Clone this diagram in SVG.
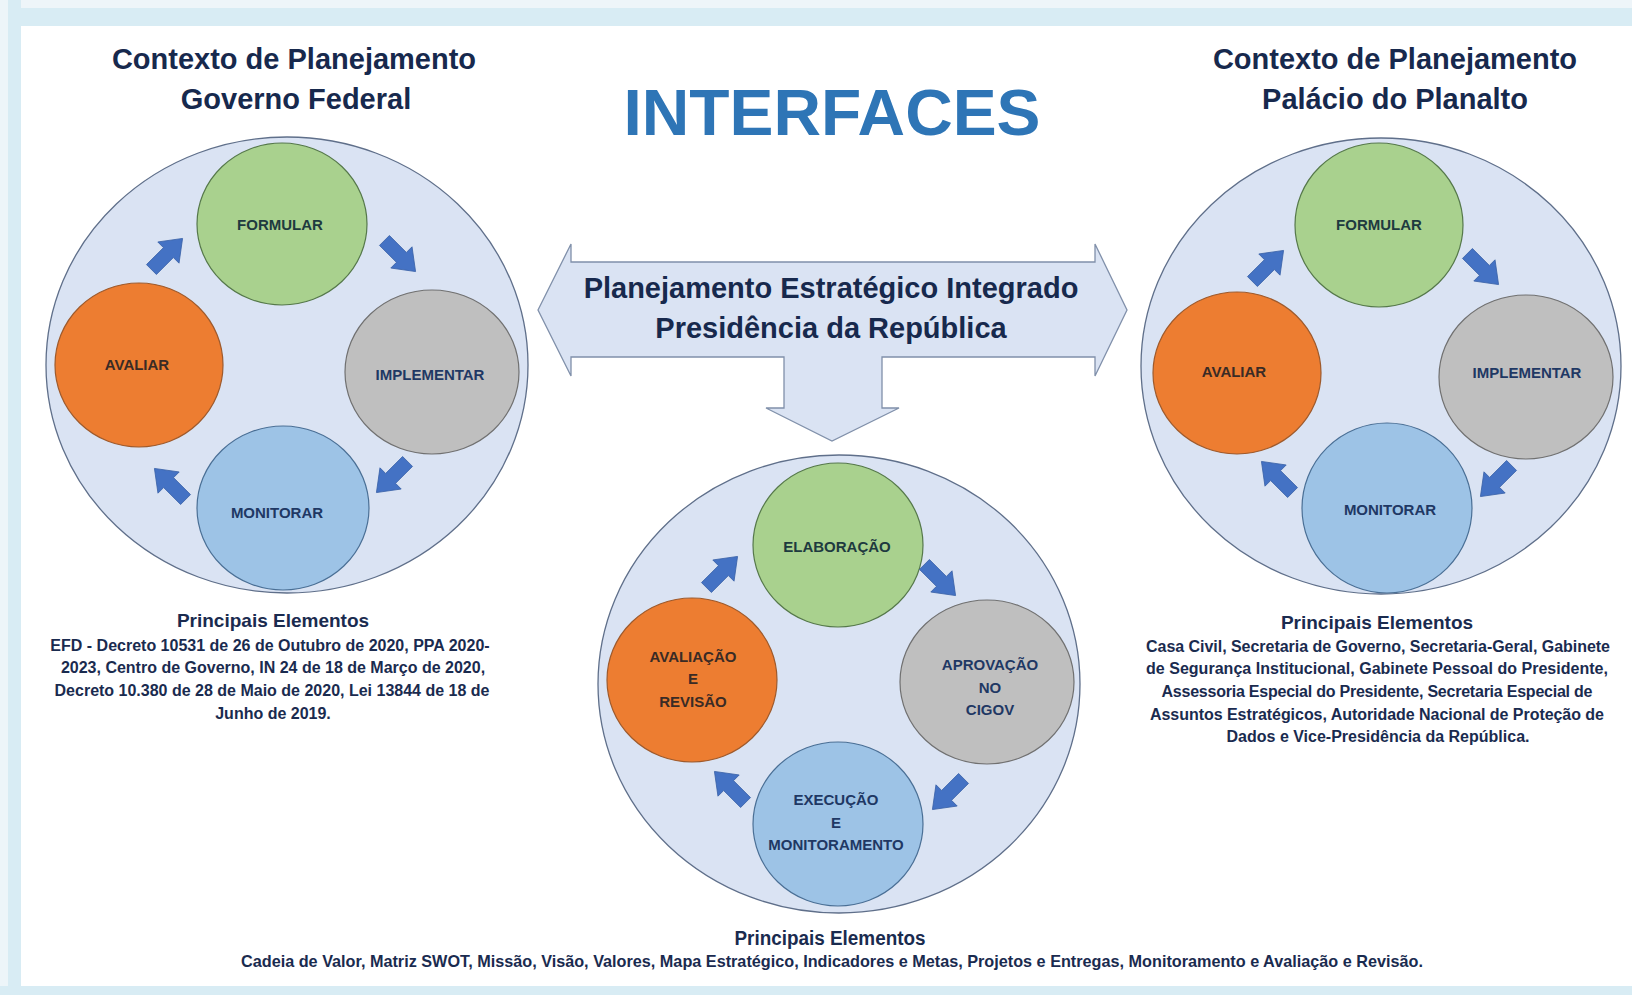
<svg xmlns="http://www.w3.org/2000/svg" width="1632" height="995" viewBox="0 0 1632 995">
<defs>
<style>
.t{font-family:"Liberation Sans",Arial,sans-serif;font-weight:bold;text-anchor:middle}
.title{font-size:29px;fill:#17294d}
.lbl{font-size:15px;fill:#1f3864}
.lblo{font-size:15px;fill:#3a2b25}
.lblg{font-size:15px;fill:#1e3a3f}
.hd{font-size:19px;fill:#1a2b4f}
.body{font-size:16px;fill:#1a2b4f}
.big{fill:#dae3f3;stroke:#5f6f8a;stroke-width:1.3}
.g{fill:#a9d18e;stroke:#55784a;stroke-width:1.2}
.o{fill:#ed7d31;stroke:#9e5a2c;stroke-width:1.2}
.gr{fill:#bfbfbf;stroke:#707070;stroke-width:1.2}
.b{fill:#9dc3e6;stroke:#4a6f95;stroke-width:1.2}
.arr{fill:#4472c4;stroke:#3a62a8;stroke-width:0.8}
</style>
<path id="blk" d="M-22,-7 H2 V-15 L22,0 L2,15 V7 H-22 Z"/>
</defs>

<g id="frame">
<rect x="0" y="0" width="1632" height="995" fill="#ffffff"/>
<rect x="0" y="0" width="1632" height="9" fill="#eef5f9"/>
<rect x="0" y="8" width="1632" height="18" fill="#d8ecf4"/>
<rect x="0" y="0" width="21" height="995" fill="#d8ecf4"/>
<rect x="0" y="0" width="8" height="995" fill="#edf5f9"/>
<rect x="0" y="986" width="1632" height="9" fill="#d8ecf4"/>
</g>

<g id="titles">
<text class="t title" x="294" y="69">Contexto de Planejamento</text>
<text class="t title" x="296" y="109">Governo Federal</text>
<text class="t title" x="1395" y="69">Contexto de Planejamento</text>
<text class="t title" x="1395" y="109">Palácio do Planalto</text>
<text class="t" x="832" y="135" style="font-size:65px;fill:#2e75b6" textLength="417" lengthAdjust="spacingAndGlyphs">INTERFACES</text>
</g>

<g id="central-arrow">
<path d="M538,310 L571,244 L571,262 L1095,262 L1095,244 L1127,310 L1095,376 L1095,357 L882,357 L882,408 L899,408 L832,441 L766,408 L784,408 L784,357 L571,357 L571,376 Z" fill="#dae3f3" stroke="#8090aa" stroke-width="1.3"/>
<text class="t title" x="831" y="298">Planejamento Estratégico Integrado</text>
<text class="t title" x="831" y="338">Presidência da República</text>
</g>

<g id="left-context">
<ellipse class="big" cx="287" cy="365" rx="241" ry="228"/>
<g id="l-formular"><ellipse class="g" cx="282" cy="224" rx="85" ry="81"/><text class="t lblg" x="280" y="230">FORMULAR</text></g>
<g id="l-implementar"><ellipse class="gr" cx="432" cy="372" rx="87" ry="82"/><text class="t lbl" x="430" y="380">IMPLEMENTAR</text></g>
<g id="l-monitorar"><ellipse class="b" cx="283" cy="508" rx="86" ry="82"/><text class="t lbl" x="277" y="518">MONITORAR</text></g>
<g id="l-avaliar"><ellipse class="o" cx="139" cy="365" rx="84" ry="82"/><text class="t lblo" x="137" y="370">AVALIAR</text></g>
</g>

<g id="center-context">
<ellipse class="big" cx="839" cy="684" rx="241" ry="229"/>
<g id="c-elaboracao"><ellipse class="g" cx="838" cy="545" rx="85" ry="82"/><text class="t lblg" x="837" y="552">ELABORAÇÃO</text></g>
<g id="c-aprovacao"><ellipse class="gr" cx="987" cy="682" rx="87" ry="82"/>
<text class="t lbl" x="990" y="670">APROVAÇÃO</text><text class="t lbl" x="990" y="693">NO</text><text class="t lbl" x="990" y="715">CIGOV</text></g>
<g id="c-execucao"><ellipse class="b" cx="838" cy="824" rx="85" ry="82"/>
<text class="t lbl" x="836" y="805">EXECUÇÃO</text><text class="t lbl" x="836" y="828">E</text><text class="t lbl" x="836" y="850">MONITORAMENTO</text></g>
<g id="c-avaliacao"><ellipse class="o" cx="692" cy="680" rx="85" ry="82"/>
<text class="t lblo" x="693" y="662">AVALIAÇÃO</text><text class="t lblo" x="693" y="684">E</text><text class="t lblo" x="693" y="707">REVISÃO</text></g>
</g>

<g id="right-context">
<ellipse class="big" cx="1381" cy="366" rx="240" ry="228"/>
<g id="r-formular"><ellipse class="g" cx="1379" cy="225" rx="84" ry="82"/><text class="t lblg" x="1379" y="230">FORMULAR</text></g>
<g id="r-implementar"><ellipse class="gr" cx="1526" cy="377" rx="87" ry="82"/><text class="t lbl" x="1527" y="378">IMPLEMENTAR</text></g>
<g id="r-monitorar"><ellipse class="b" cx="1387" cy="508" rx="85" ry="85"/><text class="t lbl" x="1390" y="515">MONITORAR</text></g>
<g id="r-avaliar"><ellipse class="o" cx="1237" cy="373" rx="84" ry="81"/><text class="t lblo" x="1234" y="377">AVALIAR</text></g>
</g>

<g id="connectors">
<use href="#blk" class="arr" transform="translate(167,254) rotate(-45)"/>
<use href="#blk" class="arr" transform="translate(400,256) rotate(45)"/>
<use href="#blk" class="arr" transform="translate(392,477) rotate(135)"/>
<use href="#blk" class="arr" transform="translate(170,484) rotate(-135)"/>
<use href="#blk" class="arr" transform="translate(722,572) rotate(-45)"/>
<use href="#blk" class="arr" transform="translate(940,580) rotate(45)"/>
<use href="#blk" class="arr" transform="translate(948,794) rotate(135)"/>
<use href="#blk" class="arr" transform="translate(730,787) rotate(-135)"/>
<use href="#blk" class="arr" transform="translate(1268,266) rotate(-45)"/>
<use href="#blk" class="arr" transform="translate(1483,269) rotate(45)"/>
<use href="#blk" class="arr" transform="translate(1496,481) rotate(135)"/>
<use href="#blk" class="arr" transform="translate(1277,477) rotate(-135)"/>
</g>

<g id="left-notes">
<text class="t hd" x="273" y="627">Principais Elementos</text>
<text class="t body" x="270" y="651">EFD - Decreto 10531 de 26 de Outubro de 2020, PPA 2020-</text>
<text class="t body" x="273" y="673">2023, Centro de Governo, IN 24 de 18 de Março  de 2020,</text>
<text class="t body" x="272" y="696">Decreto 10.380 de 28 de Maio  de 2020, Lei 13844 de 18 de</text>
<text class="t body" x="273" y="719">Junho de 2019.</text>
</g>

<g id="right-notes">
<text class="t hd" x="1377" y="629">Principais Elementos</text>
<text class="t body" x="1378" y="652" textLength="464">Casa Civil, Secretaria de Governo, Secretaria-Geral, Gabinete</text>
<text class="t body" x="1377" y="674" textLength="462">de Segurança Institucional, Gabinete Pessoal do Presidente,</text>
<text class="t body" x="1377" y="697" textLength="431">Assessoria Especial do Presidente, Secretaria Especial de</text>
<text class="t body" x="1377" y="720" textLength="454">Assuntos Estratégicos, Autoridade Nacional de Proteção de</text>
<text class="t body" x="1378" y="742">Dados e Vice-Presidência da República.</text>
</g>

<g id="bottom-notes">
<text class="t hd" x="830" y="945" textLength="191" lengthAdjust="spacingAndGlyphs" style="font-size:20px">Principais Elementos</text>
<text class="t body" x="832" y="967" textLength="1182" lengthAdjust="spacingAndGlyphs" style="font-size:17px">Cadeia de Valor, Matriz SWOT, Missão,  Visão, Valores, Mapa  Estratégico, Indicadores  e Metas, Projetos e Entregas, Monitoramento e Avaliação  e Revisão.</text>
</g>
</svg>
